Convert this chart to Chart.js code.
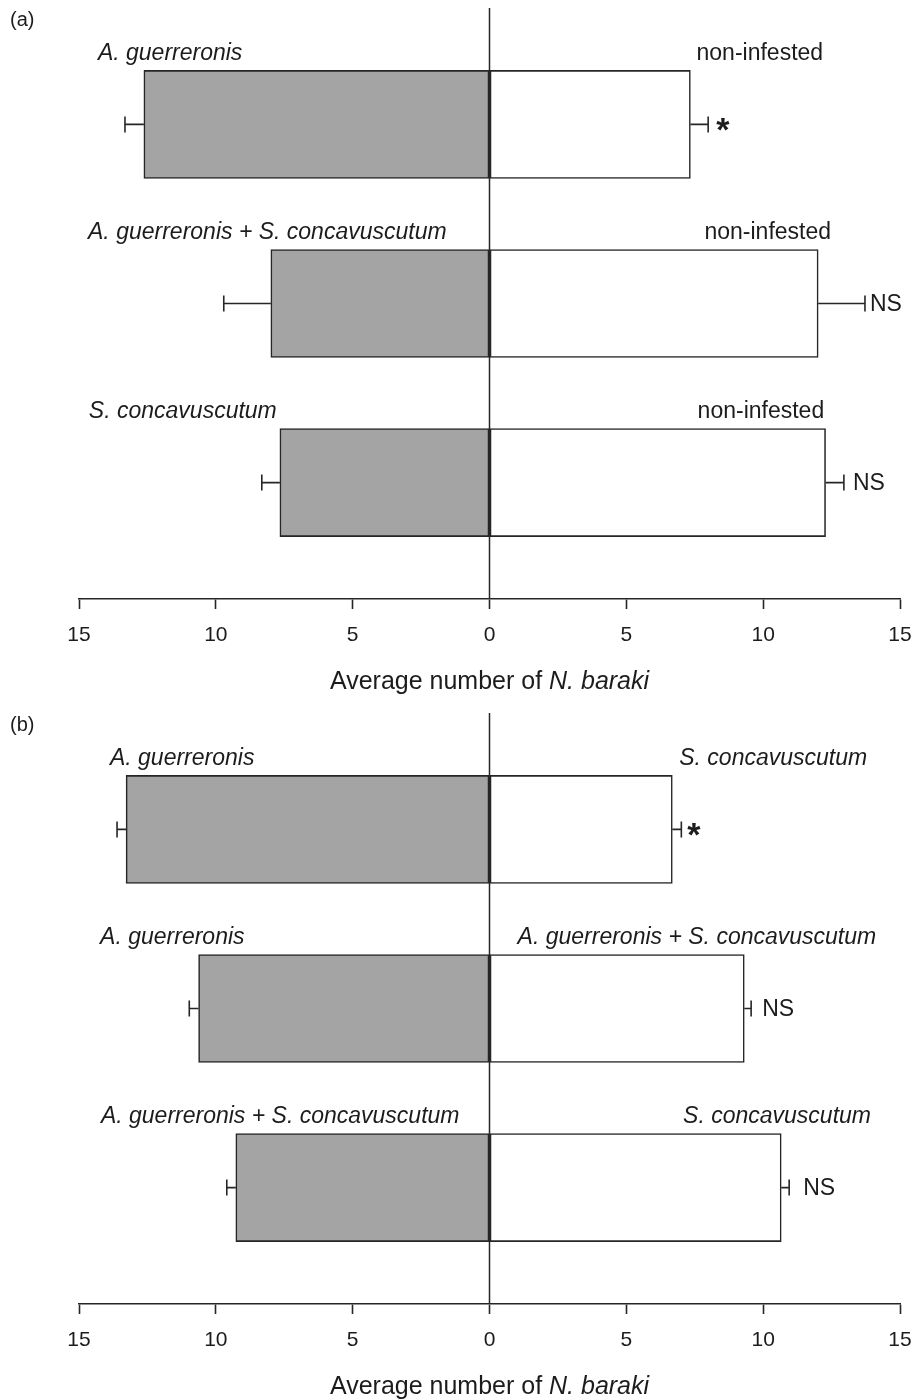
<!DOCTYPE html>
<html>
<head>
<meta charset="utf-8">
<script src="https://cdn.jsdelivr.net/npm/chart.js@4.4.0/dist/chart.umd.min.js"></script>
<style>
  html, body { margin: 0; padding: 0; background: #fff; }
  .panel { position: relative; width: 913px; }
  canvas { display: block; }
</style>
</head>
<body>
<div class="panel" style="height:705px"><canvas id="chartA" width="913" height="705"></canvas></div>
<div class="panel" style="height:694px"><canvas id="chartB" width="913" height="694"></canvas></div>
<script>
// ---- data, panel (a) ----
var rowsA = [1, 2, 3];
var leftLabelsA = ['A. guerreronis', 'A. guerreronis + S. concavuscutum', 'S. concavuscutum'];
var rightLabelsA = ['non-infested', 'non-infested', 'non-infested'];
var leftMeanA = [12.63, 7.99, 7.66];
var leftSeA = [0.69, 1.72, 0.66];
var rightMeanA = [7.34, 12.01, 12.28];
var rightSeA = [0.65, 1.71, 0.67];
var sigA = ['*', 'NS', 'NS'];

// ---- data, panel (b) ----
var rowsB = [1, 2, 3];
var leftLabelsB = ['A. guerreronis', 'A. guerreronis', 'A. guerreronis + S. concavuscutum'];
var rightLabelsB = ['S. concavuscutum', 'A. guerreronis + S. concavuscutum', 'S. concavuscutum'];
var leftMeanB = [13.28, 10.63, 9.27];
var leftSeB = [0.33, 0.34, 0.33];
var rightMeanB = [6.68, 9.31, 10.66];
var rightSeB = [0.33, 0.25, 0.29];
var sigB = ['*', 'NS', 'NS'];

var xTicks = [-15, -10, -5, 0, 5, 10, 15];
var axisTitle = ['Average number of ', 'N. baraki'];

// ---- layout (not data) ----
var FONT = '"Liberation Sans", Arial, sans-serif';
var INK = '#1c1c1c';
var LINE = '#262626';
var GREY = '#a4a4a4';

function isItalicLabel(s) { return s !== 'non-infested'; }

function panelPlugin(p) {
    return {
        id: 'panelMarks',
        afterDatasetsDraw: function (chart) {
            var ctx = chart.ctx, x = chart.scales.x, area = chart.chartArea;
            var metaL = chart.getDatasetMeta(0);
            ctx.save();
            var x0 = x.getPixelForValue(0);
            ctx.strokeStyle = LINE;
            ctx.lineWidth = 1.5;
            ctx.beginPath();
            ctx.moveTo(x0, area.top);
            ctx.lineTo(x0, area.bottom);
            ctx.stroke();

            p.rows.forEach(function (r, i) {
                var bar = metaL.data[i];
                var yc = bar.y;
                var top = yc - bar.height / 2;

                // error bars
                var lA = x.getPixelForValue(-p.leftMean[i]);
                var lB = x.getPixelForValue(-(p.leftMean[i] + p.leftSe[i]));
                var rA = x.getPixelForValue(p.rightMean[i]);
                var rB = x.getPixelForValue(p.rightMean[i] + p.rightSe[i]);
                ctx.strokeStyle = LINE;
                ctx.lineWidth = 1.6;
                ctx.beginPath();
                ctx.moveTo(lA, yc); ctx.lineTo(lB, yc);
                ctx.moveTo(lB, yc - 8); ctx.lineTo(lB, yc + 8);
                ctx.moveTo(rA, yc); ctx.lineTo(rB, yc);
                ctx.moveTo(rB, yc - 8); ctx.lineTo(rB, yc + 8);
                ctx.stroke();

                // significance
                ctx.fillStyle = INK;
                ctx.textAlign = 'left';
                if (p.sig[i] === '*') {
                    ctx.font = 'bold 34px ' + FONT;
                    ctx.textBaseline = 'alphabetic';
                    ctx.fillText('*', rB + p.sigGap[i], yc + 17);
                } else {
                    ctx.font = '23px ' + FONT;
                    ctx.textBaseline = 'middle';
                    ctx.fillText(p.sig[i], rB + p.sigGap[i], yc + 1);
                }

                // row labels
                ctx.textBaseline = 'middle';
                ctx.font = (isItalicLabel(p.leftLabels[i]) ? 'italic ' : '') + '23px ' + FONT;
                ctx.textAlign = 'left';
                ctx.fillText(p.leftLabels[i], x.getPixelForValue(p.leftAt[i]), top - 17);
                ctx.font = (isItalicLabel(p.rightLabels[i]) ? 'italic ' : '') + '23px ' + FONT;
                ctx.textAlign = 'right';
                ctx.fillText(p.rightLabels[i], x.getPixelForValue(p.rightAt[i]), top - 17);
            });
            ctx.restore();
        },
        afterDraw: function (chart) {
            var ctx = chart.ctx, x = chart.scales.x, area = chart.chartArea;
            ctx.save();
            ctx.fillStyle = INK;
            ctx.textBaseline = 'middle';
            ctx.textAlign = 'left';
            ctx.font = '20px ' + FONT;
            ctx.fillText(p.letter, 10, 20);

            // axis title with italic species name
            ctx.font = '25px ' + FONT;
            var w1 = ctx.measureText(axisTitle[0]).width;
            ctx.font = 'italic 25px ' + FONT;
            var w2 = ctx.measureText(axisTitle[1]).width;
            var sx = x.getPixelForValue(0) - (w1 + w2) / 2;
            var ty = area.bottom + 83;
            ctx.font = '25px ' + FONT;
            ctx.fillText(axisTitle[0], sx, ty);
            ctx.font = 'italic 25px ' + FONT;
            ctx.fillText(axisTitle[1], sx + w1, ty);
            ctx.restore();
        }
    };
}

function makePanel(id, p, axisHeight) {
    var left = p.rows.map(function (r, i) { return { x: -p.leftMean[i], y: r }; });
    var right = p.rows.map(function (r, i) { return { x: p.rightMean[i], y: r }; });
    return new Chart(document.getElementById(id), {
        type: 'bar',
        data: {
            datasets: [{
                data: left,
                backgroundColor: GREY,
                borderColor: LINE,
                borderWidth: 1.6,
                borderSkipped: false,
                barThickness: 108,
                grouped: false
            }, {
                data: right,
                backgroundColor: '#ffffff',
                borderColor: LINE,
                borderWidth: 1.6,
                borderSkipped: false,
                barThickness: 108,
                grouped: false
            }]
        },
        options: {
            indexAxis: 'y',
            responsive: false,
            animation: false,
            layout: { padding: { left: 79, right: 13, top: 8, bottom: 0 } },
            plugins: { legend: { display: false }, tooltip: { enabled: false } },
            scales: {
                y: {
                    type: 'linear',
                    display: false,
                    offset: false,
                    reverse: true,
                    min: 0.35,
                    max: 3.65
                },
                x: {
                    type: 'linear',
                    min: -15,
                    max: 15,
                    afterBuildTicks: function (s) {
                        s.ticks = xTicks.map(function (v) { return { value: v }; });
                    },
                    afterFit: function (s) {
                        s.height = axisHeight;
                        s.paddingLeft = 0;
                        s.paddingRight = 0;
                    },
                    border: { display: true, color: LINE, width: 1.6 },
                    grid: {
                        drawOnChartArea: false,
                        drawTicks: true,
                        tickLength: 10,
                        tickWidth: 1.6,
                        tickColor: LINE
                    },
                    ticks: {
                        autoSkip: false,
                        maxRotation: 0,
                        padding: 14,
                        color: INK,
                        font: { family: FONT, size: 21 },
                        callback: function (v) { return String(Math.abs(v)); }
                    }
                }
            }
        },
        plugins: [panelPlugin(p)]
    });
}

makePanel('chartA', {
    letter: '(a)',
    rows: rowsA,
    leftLabels: leftLabelsA, rightLabels: rightLabelsA,
    leftMean: leftMeanA, leftSe: leftSeA,
    rightMean: rightMeanA, rightSe: rightSeA,
    sig: sigA,
    leftAt: [-14.31, -14.67, -14.64],
    rightAt: [12.19, 12.48, 12.23],
    sigGap: [8, 5, 9]
}, 106);

makePanel('chartB', {
    letter: '(b)',
    rows: rowsB,
    leftLabels: leftLabelsB, rightLabels: rightLabelsB,
    leftMean: leftMeanB, leftSe: leftSeB,
    rightMean: rightMeanB, rightSe: rightSeB,
    sig: sigB,
    leftAt: [-13.87, -14.23, -14.2],
    rightAt: [13.8, 14.13, 13.94],
    sigGap: [6, 11, 14]
}, 95);
</script>
</body>
</html>
